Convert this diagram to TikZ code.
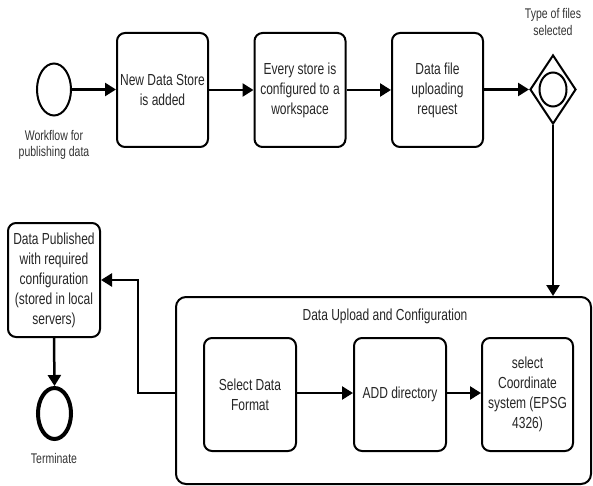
\documentclass[tikz,border=0pt]{standalone}
\usepackage{fontspec}
\setmainfont{Liberation Sans}[FakeStretch=0.75]
\usetikzlibrary{shapes.geometric,arrows.meta}
\tikzset{
  txt/.style={font=\fontsize{16}{20}\selectfont, text=black!85, align=center},
  lbl/.style={font=\fontsize{14}{16.5}\selectfont, text=black!80, align=center},
  task/.style={draw, line width=2pt, rounded corners=8pt, minimum width=91pt, minimum height=114pt, inner sep=0pt, txt},
  evt/.style={draw, ellipse, line width=2pt, minimum width=34pt, minimum height=52pt, inner sep=0pt},
  arr/.style={line width=2.5pt, -{Triangle[length=11pt,width=13pt]}},
}
\begin{document}
\begin{tikzpicture}[x=1pt,y=-1pt]
\useasboundingbox (0,0) rectangle (593,486);
% top row
\node[evt] (start) at (54,89.5) {};
\node[lbl] (startlbl) at (54,145) {Workflow for\\publishing data};
\node[task] (b1) at (162.5,90) {New Data Store\\is added};
\node[task] (b2) at (300,90) {Every store is\\configured to a\\workspace};
\node[task] (b3) at (437.5,90) {Data file\\uploading\\request};
\node[draw, diamond, line width=2pt, minimum width=46pt, minimum height=69pt, inner sep=0pt] (gw) at (553,89.5) {};
\node[draw, ellipse, line width=2pt, minimum width=27pt, minimum height=34pt, inner sep=0pt] (gwin) at (553,89.5) {};
\node[lbl] (gwlbl) at (553,22) {Type of files\\selected};
% group
\node[draw, line width=2pt, rounded corners=10pt, minimum width=415pt, minimum height=187pt, inner sep=0pt] (grp) at (383.5,390.5) {};
\node[txt] (grplbl) at (385,316) {Data Upload and Configuration};
\node[task, minimum width=92pt, minimum height=113pt] (s1) at (250,394.5) {Select Data\\Format};
\node[task, minimum width=92pt, minimum height=113pt] (s2) at (400,394.5) {ADD directory};
\node[task, minimum width=91pt, minimum height=113pt] (s3) at (527.5,394.5) {select\\Coordinate\\system (EPSG\\4326)};
% left column
\node[task, minimum width=92pt, minimum height=114pt] (pub) at (54,280) {Data Published\\with required\\configuration\\(stored in local\\servers)};
\node[draw, ellipse, line width=4pt, minimum width=33pt, minimum height=51pt, inner sep=0pt] (term) at (54.5,413.5) {};
\node[lbl] (termlbl) at (54,458) {Terminate};
\coordinate (bend) at (138,393);
% connectors
\draw[arr] (start.east) -- (b1.west |- start.east);
\draw[arr] (b1.east) -- (b2.west);
\draw[arr] (b2.east) -- (b3.west);
\draw[arr] (b3.east |- gw.west) -- (gw.west);
\draw[arr] (gw.south) -- (gw.south |- grp.north);
\draw[arr] (s1.east |- bend) -- (s2.west |- bend);
\draw[arr] (s2.east |- bend) -- (s3.west |- bend);
\draw[arr] (grp.west |- bend) -- (bend) |- (pub.east);
\draw[arr] (pub.south) -- (term.north);
\end{tikzpicture}
\end{document}
